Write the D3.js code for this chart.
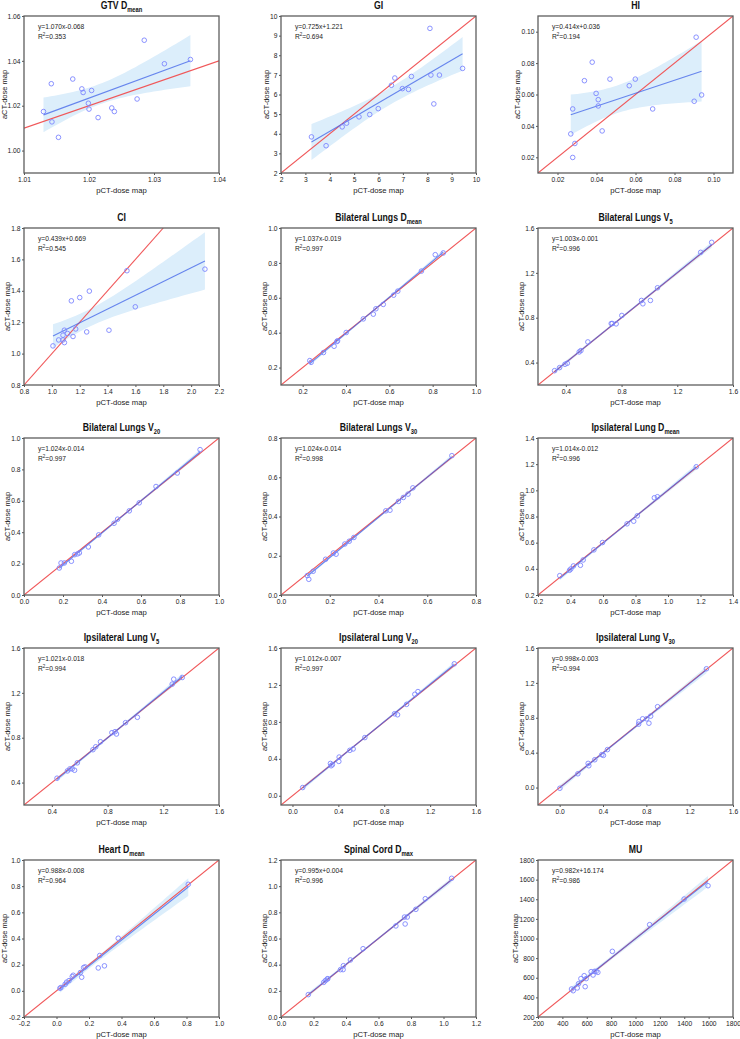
<!DOCTYPE html>
<html>
<head>
<meta charset="utf-8">
<script src="https://cdn.jsdelivr.net/npm/d3@7"></script>
<style>
  body { margin: 0; background: #fff; }
  svg { display: block; font-family: "Liberation Sans", Arial, sans-serif; }
</style>
</head>
<body>
<script>
// panel titles (main part + subscript)
const titles = ["GTV D", "GI", "HI", "CI", "Bilateral Lungs D", "Bilateral Lungs V",
  "Bilateral Lungs V", "Bilateral Lungs V", "Ipsilateral Lung D", "Ipsilateral Lung V",
  "Ipsilateral Lung V", "Ipsilateral Lung V", "Heart D", "Spinal Cord D", "MU"]
const subs = ["mean", "", "", "", "mean", "5", "20", "30", "mean", "5", "20", "30", "mean", "max", ""]

// fitted equations as printed on the panels
const slopes = [1.070, 0.725, 0.414, 0.439, 1.037, 1.003, 1.024, 1.024, 1.014, 1.021, 1.012, 0.998, 0.988, 0.995, 0.982]
const intercepts = [-0.068, 1.221, 0.036, 0.669, -0.019, -0.001, -0.014, -0.014, -0.012, -0.018, -0.007, -0.003, -0.008, 0.004, 16.174]
const r2s = ["0.353", "0.694", "0.194", "0.545", "0.997", "0.996", "0.997", "0.998", "0.996", "0.994", "0.997", "0.994", "0.964", "0.996", "0.986"]

// axis ranges and tick labels
const xDomains = [[1.01, 1.04], [2, 10], [0.01, 0.11], [0.8, 2.2], [0.1, 1.0], [0.2, 1.6], [0, 1], [0, 0.8],
  [0.2, 1.4], [0.2, 1.6], [-0.1, 1.6], [-0.2, 1.6], [-0.2, 1.0], [0, 1.2], [200, 1800]]
const yDomains = [[0.99, 1.06], [2, 10], [0.01, 0.11], [0.8, 1.8], [0.1, 1.0], [0.2, 1.6], [0, 1], [0, 0.8],
  [0.2, 1.4], [0.2, 1.6], [-0.1, 1.6], [-0.2, 1.6], [-0.2, 1.0], [0, 1.2], [200, 1800]]
const xTicks = [
  [1.01, 1.02, 1.03, 1.04], [2, 3, 4, 5, 6, 7, 8, 9, 10], [0.02, 0.04, 0.06, 0.08, 0.10],
  [0.8, 1.0, 1.2, 1.4, 1.6, 1.8, 2.0, 2.2], [0.2, 0.4, 0.6, 0.8, 1.0], [0.4, 0.8, 1.2, 1.6],
  [0, 0.2, 0.4, 0.6, 0.8, 1.0], [0, 0.2, 0.4, 0.6, 0.8], [0.2, 0.4, 0.6, 0.8, 1.0, 1.2, 1.4],
  [0.4, 0.8, 1.2, 1.6], [0, 0.4, 0.8, 1.2, 1.6], [0, 0.4, 0.8, 1.2, 1.6],
  [-0.2, 0, 0.2, 0.4, 0.6, 0.8, 1.0], [0, 0.2, 0.4, 0.6, 0.8, 1.0, 1.2],
  [200, 400, 600, 800, 1000, 1200, 1400, 1600, 1800]]
const yTicks = [
  [1.00, 1.02, 1.04, 1.06], [2, 3, 4, 5, 6, 7, 8, 9, 10], [0.02, 0.04, 0.06, 0.08, 0.10],
  [0.8, 1.0, 1.2, 1.4, 1.6, 1.8], [0.2, 0.4, 0.6, 0.8, 1.0], [0.4, 0.8, 1.2, 1.6],
  [0, 0.2, 0.4, 0.6, 0.8, 1.0], [0, 0.2, 0.4, 0.6, 0.8], [0.2, 0.4, 0.6, 0.8, 1.0, 1.2, 1.4],
  [0.4, 0.8, 1.2, 1.6], [0, 0.4, 0.8, 1.2, 1.6], [0, 0.4, 0.8, 1.2, 1.6],
  [-0.2, 0, 0.2, 0.4, 0.6, 0.8, 1.0], [0, 0.2, 0.4, 0.6, 0.8, 1.0, 1.2],
  [200, 400, 600, 800, 1000, 1200, 1400, 1600, 1800]]
const xFormats = [".2f", "d", ".2f", ".1f", ".1f", ".1f", ".1f", ".1f", ".1f", ".1f", ".1f", ".1f", ".1f", ".1f", "d"]
const yFormats = [".2f", "d", ".2f", ".1f", ".1f", ".1f", ".1f", ".1f", ".1f", ".1f", ".1f", ".1f", ".1f", ".1f", "d"]

// pCT (x) and aCT (y) values per panel
const gtvP = [1.0130, 1.0142, 1.0143, 1.0153, 1.0175, 1.0189, 1.0191, 1.0204, 1.0199, 1.0200, 1.0214, 1.0235, 1.0239, 1.0274, 1.0285, 1.0316, 1.0356]
const gtvA = [1.0174, 1.0298, 1.0128, 1.0059, 1.0319, 1.0275, 1.0259, 1.0268, 1.0211, 1.0185, 1.0147, 1.0190, 1.0174, 1.0230, 1.0492, 1.0387, 1.0406]
const giP = [3.25, 3.85, 4.51, 4.69, 5.20, 5.64, 5.99, 6.53, 6.67, 6.98, 7.23, 7.35, 8.11, 8.15, 8.27, 8.50, 9.45]
const giA = [3.84, 3.39, 4.35, 4.54, 4.86, 4.98, 5.28, 6.47, 6.84, 6.30, 6.26, 6.92, 9.37, 6.99, 5.52, 6.99, 7.33]
const hiP = [0.0268, 0.0278, 0.0289, 0.0278, 0.0338, 0.0378, 0.0398, 0.0409, 0.0409, 0.0429, 0.0469, 0.0568, 0.0599, 0.0688, 0.0901, 0.0911, 0.0939]
const hiA = [0.0349, 0.0508, 0.0288, 0.0199, 0.0688, 0.0806, 0.0607, 0.0567, 0.0527, 0.0368, 0.0698, 0.0656, 0.0698, 0.0508, 0.0557, 0.0965, 0.0597]
const ciP = [1.008, 1.049, 1.080, 1.080, 1.090, 1.090, 1.113, 1.140, 1.152, 1.171, 1.200, 1.250, 1.269, 1.410, 1.539, 1.599, 2.099]
const ciA = [1.049, 1.087, 1.087, 1.117, 1.070, 1.149, 1.128, 1.336, 1.109, 1.157, 1.357, 1.138, 1.398, 1.149, 1.528, 1.298, 1.538]
const bldP = [0.233, 0.239, 0.296, 0.345, 0.358, 0.361, 0.401, 0.480, 0.526, 0.538, 0.572, 0.620, 0.639, 0.748, 0.812, 0.849]
const bldA = [0.240, 0.230, 0.286, 0.322, 0.349, 0.353, 0.401, 0.479, 0.506, 0.537, 0.562, 0.615, 0.638, 0.753, 0.847, 0.857]
const blv5P = [0.319, 0.355, 0.394, 0.410, 0.496, 0.508, 0.558, 0.726, 0.733, 0.761, 0.802, 0.943, 0.953, 1.007, 1.058, 1.368, 1.447]
const blv5A = [0.328, 0.355, 0.385, 0.394, 0.495, 0.507, 0.584, 0.748, 0.748, 0.745, 0.820, 0.954, 0.924, 0.954, 1.067, 1.383, 1.472]
const blv20P = [0.181, 0.190, 0.207, 0.243, 0.260, 0.275, 0.284, 0.330, 0.383, 0.462, 0.480, 0.540, 0.591, 0.677, 0.786, 0.903]
const blv20A = [0.172, 0.204, 0.204, 0.215, 0.257, 0.262, 0.268, 0.306, 0.383, 0.457, 0.483, 0.536, 0.587, 0.691, 0.777, 0.926]
const blv30P = [0.108, 0.114, 0.132, 0.183, 0.215, 0.226, 0.262, 0.280, 0.299, 0.430, 0.447, 0.482, 0.502, 0.521, 0.541, 0.701]
const blv30A = [0.099, 0.080, 0.121, 0.182, 0.214, 0.208, 0.260, 0.274, 0.293, 0.429, 0.432, 0.477, 0.497, 0.514, 0.546, 0.710]
const ildP = [0.334, 0.394, 0.402, 0.418, 0.461, 0.478, 0.544, 0.597, 0.748, 0.789, 0.811, 0.916, 0.935, 1.174]
const ildA = [0.348, 0.389, 0.399, 0.422, 0.427, 0.468, 0.545, 0.601, 0.744, 0.764, 0.805, 0.943, 0.951, 1.180]
const ilv5P = [0.437, 0.512, 0.529, 0.546, 0.563, 0.583, 0.695, 0.715, 0.749, 0.831, 0.854, 0.864, 0.929, 1.014, 1.264, 1.275, 1.336]
const ilv5A = [0.439, 0.504, 0.522, 0.522, 0.510, 0.576, 0.693, 0.719, 0.764, 0.845, 0.854, 0.833, 0.934, 0.982, 1.278, 1.322, 1.337]
const ilv20P = [0.089, 0.331, 0.337, 0.348, 0.404, 0.407, 0.500, 0.529, 0.631, 0.890, 0.916, 0.995, 1.067, 1.094, 1.411]
const ilv20A = [0.089, 0.350, 0.325, 0.336, 0.372, 0.419, 0.492, 0.507, 0.630, 0.888, 0.877, 0.990, 1.099, 1.128, 1.429]
const ilv30P = [0.002, 0.168, 0.263, 0.269, 0.324, 0.389, 0.404, 0.441, 0.729, 0.732, 0.766, 0.803, 0.824, 0.840, 0.904, 1.355]
const ilv30A = [-0.008, 0.158, 0.277, 0.250, 0.319, 0.377, 0.369, 0.435, 0.727, 0.758, 0.788, 0.788, 0.738, 0.819, 0.927, 1.362]
const heartP = [0.021, 0.027, 0.053, 0.062, 0.077, 0.097, 0.103, 0.147, 0.155, 0.167, 0.176, 0.257, 0.266, 0.295, 0.380, 0.811]
const heartA = [0.020, 0.025, 0.050, 0.066, 0.078, 0.109, 0.119, 0.140, 0.104, 0.178, 0.183, 0.175, 0.270, 0.191, 0.402, 0.814]
const cordP = [0.168, 0.263, 0.273, 0.284, 0.288, 0.366, 0.384, 0.382, 0.427, 0.505, 0.707, 0.760, 0.764, 0.777, 0.830, 0.888, 1.050]
const cordA = [0.171, 0.265, 0.278, 0.290, 0.293, 0.362, 0.392, 0.362, 0.436, 0.522, 0.696, 0.764, 0.711, 0.764, 0.823, 0.904, 1.060]
const muP = [475, 489, 522, 533, 552, 579, 587, 595, 636, 652, 663, 677, 691, 810, 1116, 1399, 1595]
const muA = [485, 468, 496, 540, 591, 621, 509, 591, 662, 628, 665, 665, 655, 869, 1141, 1402, 1538]

const pValues = [gtvP, giP, hiP, ciP, bldP, blv5P, blv20P, blv30P, ildP, ilv5P, ilv20P, ilv30P, heartP, cordP, muP]
const aValues = [gtvA, giA, hiA, ciA, bldA, blv5A, blv20A, blv30A, ildA, ilv5A, ilv20A, ilv30A, heartA, cordA, muA]

// layout
const width = 740, height = 1039
const colX = [24, 281, 538], rowY = [16, 228, 438, 648, 860]
const pw = 195, ph = 157

const locale = d3.formatLocale({decimal: ".", thousands: ",", grouping: [3], currency: ["", ""], minus: "-"})
const eqFmt = locale.format(".3f")

const svg = d3.select("body").append("svg")
  .attr("width", width)
  .attr("height", height)

titles.forEach((title, i) => drawPanel(i))

function drawPanel(i) {
  const px = pValues[i], ay = aValues[i]
  const b = slopes[i], a = intercepts[i]
  const left = colX[i % 3]
  const g = svg.append("g")
    .attr("transform", `translate(${left},${rowY[Math.floor(i / 3)]})`)

  const x = d3.scaleLinear().domain(xDomains[i]).range([0, pw])
  const y = d3.scaleLinear().domain(yDomains[i]).range([ph, 0])

  g.append("clipPath").attr("id", "clip" + i)
    .append("rect").attr("width", pw).attr("height", ph)
  const plot = g.append("g").attr("clip-path", `url(#clip${i})`)

  // 95% confidence band of the fitted line, from the residuals
  const n = px.length
  const mx = d3.mean(px)
  const sxx = d3.sum(px, v => (v - mx) * (v - mx))
  const s = Math.sqrt(d3.sum(px, (v, k) => Math.pow(ay[k] - (a + b * v), 2)) / (n - 2))
  const t = 1.96 + 2.4 / (n - 2)
  const [x0, x1] = d3.extent(px)
  const grid = d3.range(41).map(k => x0 + (x1 - x0) * k / 40)
  const half = v => t * s * Math.sqrt(1 / n + (v - mx) * (v - mx) / sxx)

  plot.append("path")
    .datum(grid)
    .attr("fill", "#dceefb")
    .attr("d", d3.area()
      .x(v => x(v))
      .y0(v => y(a + b * v - half(v)))
      .y1(v => y(a + b * v + half(v))))

  // identity line
  const lo = Math.max(xDomains[i][0], yDomains[i][0])
  const hi = Math.min(xDomains[i][1], yDomains[i][1])
  plot.append("line")
    .attr("x1", x(lo)).attr("y1", y(lo))
    .attr("x2", x(hi)).attr("y2", y(hi))
    .attr("stroke", "#f0585a")
    .attr("stroke-width", 1.1)

  // fitted line
  plot.append("line")
    .attr("x1", x(x0)).attr("y1", y(a + b * x0))
    .attr("x2", x(x1)).attr("y2", y(a + b * x1))
    .attr("stroke", "#3f62e8")
    .attr("stroke-opacity", 0.75)
    .attr("stroke-width", 1.1)

  // points
  plot.selectAll("circle")
    .data(px)
    .join("circle")
    .attr("cx", v => x(v))
    .attr("cy", (v, k) => y(ay[k]))
    .attr("r", 2.3)
    .attr("fill", "none")
    .attr("stroke", "#7d86ff")
    .attr("stroke-width", 0.9)

  // axes
  const xAxis = g.append("g")
    .attr("transform", `translate(0,${ph})`)
    .call(d3.axisBottom(x).tickValues(xTicks[i]).tickSize(2).tickPadding(2)
      .tickFormat(locale.format(xFormats[i])))
  const yAxis = g.append("g")
    .call(d3.axisLeft(y).tickValues(yTicks[i]).tickSize(2).tickPadding(1.5)
      .tickFormat(locale.format(yFormats[i])))
  ;[xAxis, yAxis].forEach(ax => {
    ax.select(".domain").remove()
    ax.selectAll("line").attr("stroke", "#555")
    ax.selectAll("text").attr("font-size", "6.7px").attr("fill", "#222")
      .attr("font-family", "Liberation Sans, Arial, sans-serif")
  })

  // frame
  g.append("rect")
    .attr("width", pw).attr("height", ph)
    .attr("fill", "none")
    .attr("stroke", "#5e5e5e")
    .attr("stroke-width", 1.3)

  // equation and R2
  g.append("text")
    .attr("x", 14).attr("y", 12.5)
    .attr("font-size", "6.7px").attr("fill", "#222")
    .text("y=" + eqFmt(b) + "x" + (a < 0 ? "" : "+") + eqFmt(a))
  const r2 = g.append("text")
    .attr("x", 14).attr("y", 22.5)
    .attr("font-size", "6.7px").attr("fill", "#222")
  r2.append("tspan").text("R")
  r2.append("tspan").attr("font-size", "4.5px").attr("dy", -2.8).text("2")
  r2.append("tspan").attr("dy", 2.8).text("=" + r2s[i])

  // title (narrow bold)
  const tt = g.append("text")
    .attr("transform", `translate(${pw / 2},-7) scale(0.83,1)`)
    .attr("text-anchor", "middle")
    .attr("font-size", "10.5px")
    .attr("font-weight", "bold")
    .attr("fill", "#111")
  tt.append("tspan").text(titles[i])
  if (subs[i]) tt.append("tspan").attr("font-size", "7px").attr("dy", 2.5).text(subs[i])

  // axis titles
  g.append("text")
    .attr("x", pw / 2).attr("y", ph + 20)
    .attr("text-anchor", "middle")
    .attr("font-size", "7.7px").attr("fill", "#222")
    .text("pCT-dose map")
  const bb = yAxis.node().getBBox()
  const ly = Math.max(bb.x - 1.5, 6.8 - left)
  g.append("text")
    .attr("transform", `translate(${ly},${ph / 2}) rotate(-90)`)
    .attr("text-anchor", "middle")
    .attr("font-size", "7.5px").attr("fill", "#222")
    .text("aCT-dose map")
}
</script>
</body>
</html>
